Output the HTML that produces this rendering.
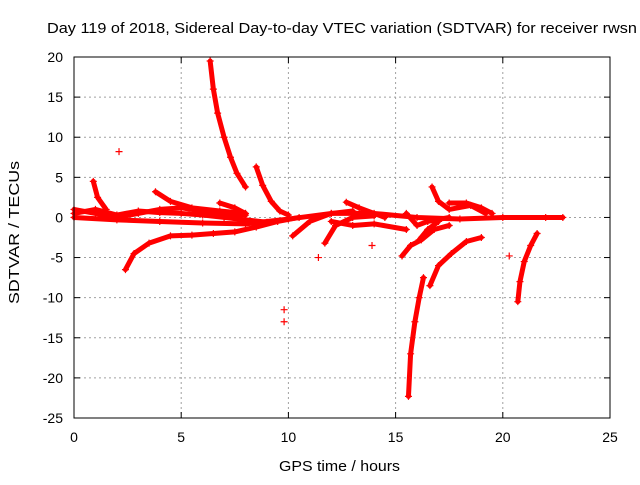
<!DOCTYPE html>
<html><head><meta charset="utf-8"><style>
body{margin:0;background:#fff;font-family:"Liberation Sans",sans-serif}
svg text{font-family:"Liberation Sans",sans-serif;font-size:14px;fill:#000}
</style></head><body>
<svg id="c" width="640" height="480" xmlns="http://www.w3.org/2000/svg">
<text x="47" y="33" textLength="590" lengthAdjust="spacingAndGlyphs" style="font-size:15px">Day 119 of 2018, Sidereal Day-to-day VTEC variation (SDTVAR) for receiver rwsn</text>
<text x="279" y="471" textLength="121" lengthAdjust="spacingAndGlyphs" style="font-size:15px">GPS time / hours</text>
<text transform="translate(19,304) rotate(-90)" textLength="143" lengthAdjust="spacingAndGlyphs" style="font-size:15px">SDTVAR / TECUs</text>
<g id="grid"></g><g id="marks"></g>
<rect x="74" y="57" width="536" height="361" fill="none" stroke="#000"/>
</svg>
<script>
const xTicks=[0,5,10,15,20,25];
const yTicks=[20,15,10,5,0,-5,-10,-15,-20,-25];
const tracks=[
[[6.35,19.5],[6.5,16],[6.7,13],[7,10],[7.3,7.5],[7.6,5.5],[8,3.8]],
[[8.5,6.3],[8.8,4],[9.2,2],[9.6,0.8],[10,0.3]],
[[2.4,-6.5],[2.8,-4.5],[3.5,-3.2],[4.5,-2.3],[5.5,-2.2],[6.5,-2],[7.5,-1.8],[8.5,-1.2],[9.5,-0.5],[10.5,0]],
[[0,1],[1,0.5],[2,0],[3,0.5],[4,1],[5,1.2],[6,0.8],[7,0.5],[8,0.3]],
[[0,0.5],[1,1],[2,0.3],[3,0.8],[4,0.6],[5,0.5],[6,0.3],[7,0],[8,-0.3],[9,-0.6]],
[[0,0],[2,-0.3],[4,-0.5],[6,-0.7],[8,-0.8],[10,-0.2],[12,0.5],[14,0.5],[16,0],[18,-0.2],[20,0],[22,0],[22.8,0]],
[[0.9,4.5],[1.1,2.5],[1.5,1]],
[[3.8,3.2],[4.5,2],[5.5,1.2],[6.8,0.8],[8,0.5]],
[[6.8,1.8],[7.5,1.2],[8,0.5]],
[[10.2,-2.3],[11,-0.5],[12,0.5],[13,0.8]],
[[11.7,-3.2],[12.2,-1],[13,0],[14,0.2]],
[[12.7,1.9],[13.3,1.2],[14.5,0]],
[[12,-0.5],[13,-1],[14,-0.8],[15.5,-1.5]],
[[15.6,-22.3],[15.7,-17],[15.9,-13],[16.1,-10],[16.3,-7.5]],
[[15.3,-4.8],[15.7,-3.5],[16.2,-2.8],[16.8,-1.5],[17.5,-1]],
[[16.1,-2.8],[16.5,-1.5],[17,-0.5]],
[[16.6,-8.5],[17,-6],[17.6,-4.5],[18.3,-3],[19,-2.5]],
[[16.7,3.8],[17,2],[17.5,1],[18.5,1.5],[19.2,0.5]],
[[17.5,1.8],[18.3,1.8],[19,1.2],[19.5,0.5]],
[[15.5,0.5],[16,-1],[16.5,-0.5],[17.5,0]],
[[20.7,-10.5],[20.8,-8],[21,-5.5],[21.3,-3.5],[21.6,-2]]
];
const isolated=[[2.1,8.2],[9.8,-13],[9.8,-11.5],[11.4,-5],[13.9,-3.5],[20.3,-4.8]];
const X=v=>74+(v-0)/25*536, Y=v=>418-(v+25)/45*361;
const NS="http://www.w3.org/2000/svg",g=document.getElementById('grid'),m=document.getElementById('marks');
function el(t,a,p){const e=document.createElementNS(NS,t);for(const k in a)e.setAttribute(k,a[k]);p.appendChild(e);return e;}
xTicks.forEach(t=>{const x=X(t);
 if(t>0&&t<25){const l=el('line',{x1:x,x2:x,y1:57,y2:418,stroke:'#a0a0a0','stroke-dasharray':'2,3'},g);}
 el('line',{x1:x,x2:x,y1:418,y2:412,stroke:'#000'},g);el('line',{x1:x,x2:x,y1:57,y2:63,stroke:'#000'},g);
 const tx=el('text',{x:x,y:442,'text-anchor':'middle'},g);tx.textContent=t;});
yTicks.forEach(t=>{const y=Y(t);
 if(t>-25&&t<20){const l=el('line',{x1:74,x2:610,y1:y,y2:y,stroke:'#a0a0a0','stroke-dasharray':'2,3'},g);}
 el('line',{x1:74,x2:80,y1:y,y2:y,stroke:'#000'},g);el('line',{x1:604,x2:610,y1:y,y2:y,stroke:'#000'},g);
 const tx=el('text',{x:63,y:y+5,'text-anchor':'end'},g);tx.textContent=t;});
function plus(x,y){const p=el('path',{d:`M${X(x)-3.5},${Y(y)}h7M${X(x)},${Y(y)-3.5}v7`,stroke:'#f00','stroke-width':1.2},m);}
tracks.forEach(tr=>{const pl=el('polyline',{points:tr.map(p=>X(p[0])+','+Y(p[1])).join(' '),fill:'none',stroke:'#f00','stroke-width':5,'stroke-linejoin':'round','stroke-linecap':'round'},m);
 tr.forEach(p=>plus(p[0],p[1]));});
isolated.forEach(p=>plus(p[0],p[1]));
</script></body></html>
